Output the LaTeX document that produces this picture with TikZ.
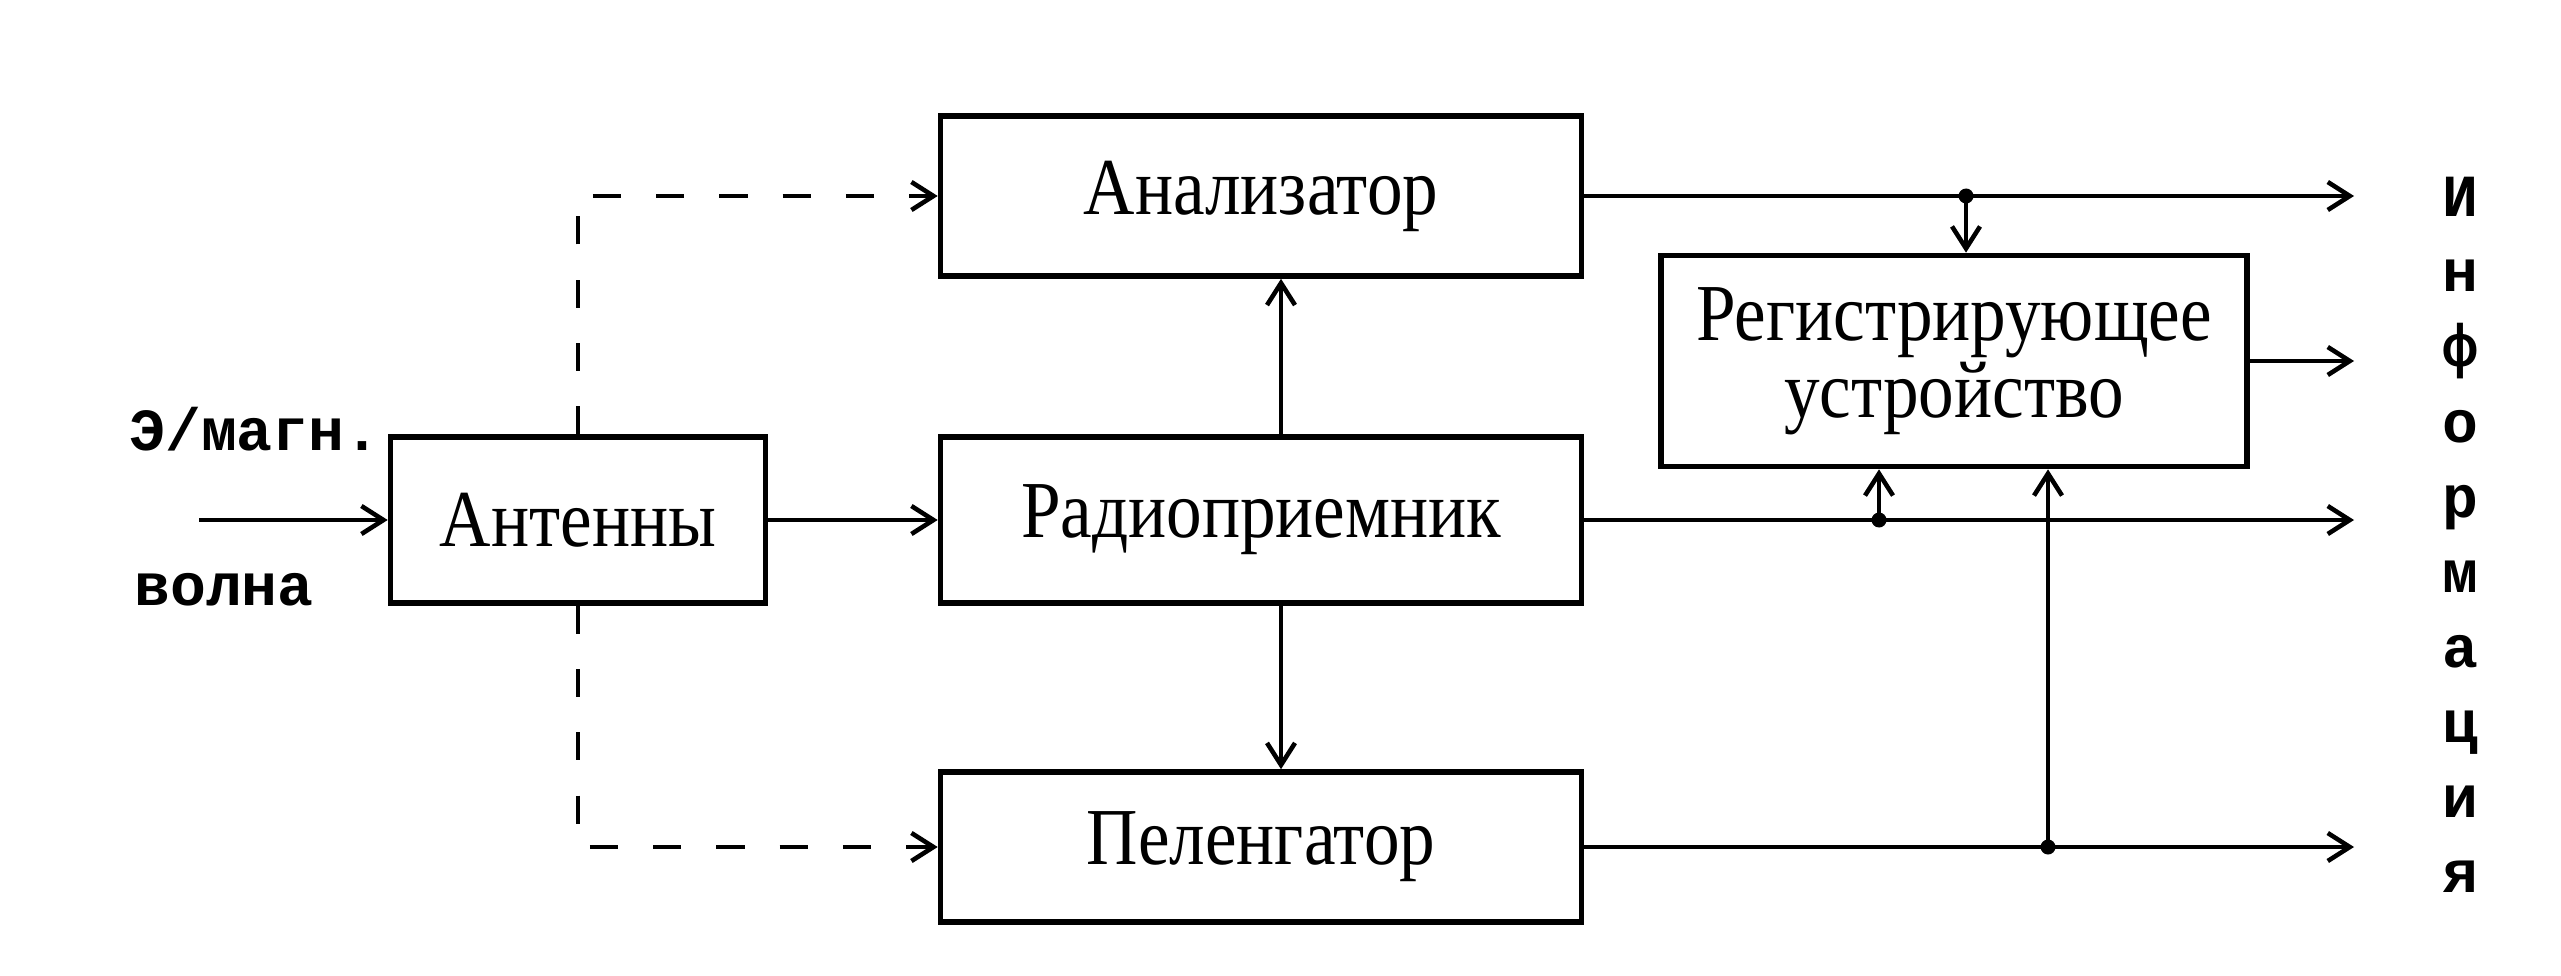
\documentclass[tikz,border=0pt]{standalone}
\usepackage{fontspec}
\setmainfont{Liberation Serif}
\newfontfamily\blockfont[FakeStretch=0.88]{Liberation Serif}
\newfontfamily\typefont{Liberation Mono}
\usetikzlibrary{arrows.meta}

\tikzset{
  block/.style={draw, line width=1.6pt, minimum width=6.41cm, inner sep=0pt,
    font=\blockfont\fontsize{23}{22}\selectfont},
  link/.style={line width=1.3pt, -{Straight Barb[length=2.2mm,width=2.8mm]}},
  dashlink/.style={link, dash pattern=on 8pt off 10pt},
  dot/.style={circle, fill, inner sep=0pt, minimum size=1.5mm},
  tlabel/.style={font=\typefont\bfseries\fontsize{17}{17}\selectfont}
}

\begin{document}
\begin{tikzpicture}
  \useasboundingbox (0,0) rectangle (25.61,9.75);

  % blocks
  \node[block, minimum width=3.75cm, minimum height=1.66cm] (ant) at (5.78,4.55) {Антенны};
  \node[block, minimum height=1.60cm] (ana) at (12.61,7.79) {Анализатор};
  \node[block, minimum height=1.66cm] (rad) at (12.61,4.55) {Радиоприемник};
  \node[block, minimum height=1.50cm] (pel) at (12.61,1.28) {Пеленгатор};
  \node[block, minimum width=5.86cm, minimum height=2.11cm, align=center] (reg) at (19.54,6.14)
    {Регистрирующее\\устройство};

  % input
  \node[tlabel, anchor=base west] (wave1) at (1.17,5.25) {Э/магн.};
  \node[tlabel, anchor=base west] (wave2) at (1.22,3.70) {волна};
  \coordinate (in) at (1.99,4.55);
  \draw[link] (in) -- (ant);

  \draw[link] (ant) -- (rad);
  \draw[dashlink] (ant.north) |- (ana.west);
  \draw[dashlink] (ant.south) |- (pel.west);
  \draw[link] ([xshift=2mm]rad.north) -- ([xshift=2mm]ana.south);
  \draw[link] ([xshift=2mm]rad.south) -- ([xshift=2mm]pel.north);

  % outputs
  \coordinate (outx) at (23.54,0);
  \draw[link] (ana.east) -- (ana.east -| outx);
  \draw[link] (reg.east) -- (reg.east -| outx);
  \draw[link] (rad.east) -- (rad.east -| outx);
  \draw[link] (pel.east) -- (pel.east -| outx);

  \coordinate (j1) at (19.66,7.79);
  \coordinate (j2) at (18.79,4.55);
  \coordinate (j3) at (20.48,1.28);
  \node[dot] (d1) at (j1) {};
  \node[dot] (d2) at (j2) {};
  \node[dot] (d3) at (j3) {};
  \draw[link] (j1) -- (j1 |- reg.north);
  \draw[link] (j2) -- (j2 |- reg.south);
  \draw[link] (j3) -- (j3 |- reg.south);

  \foreach \ch [count=\i] in {И,н,ф,о,р,м,а,ц,и,я}
    \node[tlabel, anchor=base] (info\i) at (24.60,{7.58-0.75*(\i-1)}) {\ch};
\end{tikzpicture}
\end{document}
